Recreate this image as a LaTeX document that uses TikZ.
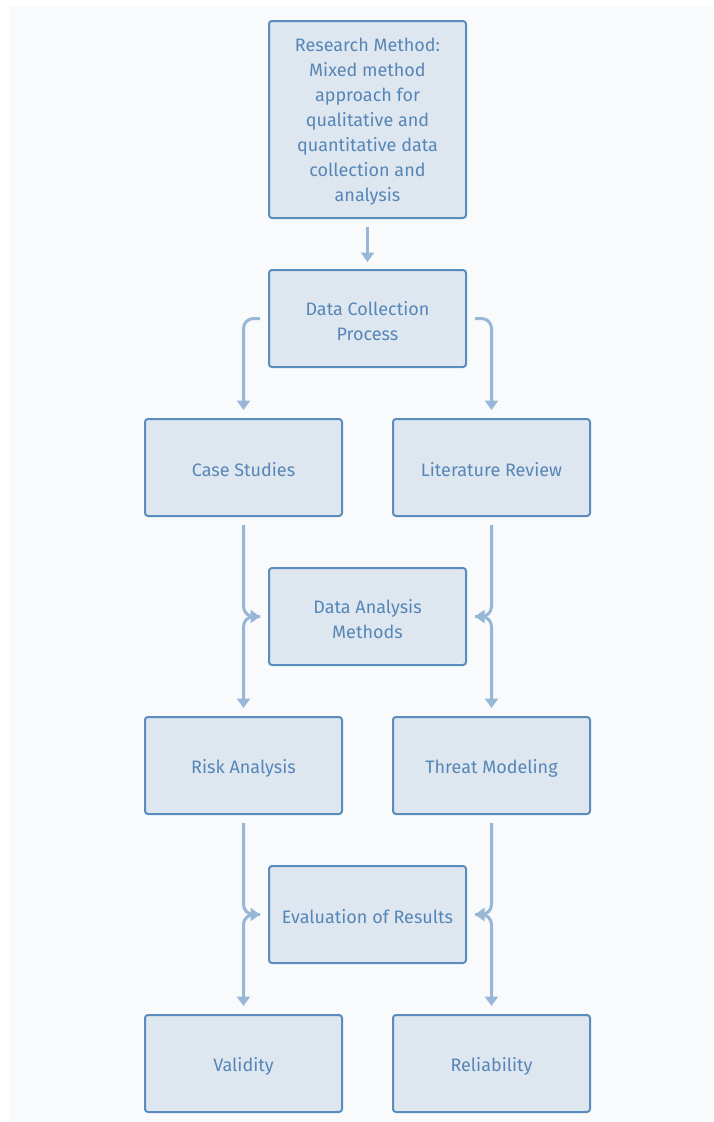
\documentclass[tikz,border=0pt]{standalone}
\usepackage{fontspec}
\setmainfont{Fira Sans}
\usetikzlibrary{arrows.meta}
\definecolor{bg}{HTML}{F8FAFC}
\definecolor{boxfill}{HTML}{DEE7F0}
\definecolor{boxline}{HTML}{5B8CBE}
\definecolor{txt}{HTML}{5686B7}
\definecolor{arrowc}{HTML}{98B7D6}
\begin{document}
\begin{tikzpicture}[x=1pt,y=-1pt,
  box/.style={draw=boxline, fill=boxfill, line width=2pt, rounded corners=3pt,
    minimum width=197pt, minimum height=97pt, inner sep=0pt},
  lbl/.style={align=center, text=txt, inner sep=0pt, yshift=-2.5pt,
    font=\fontsize{18}{25}\selectfont},
  conn/.style={draw=arrowc, line width=3pt, rounded corners=10pt,
    -{Triangle[length=9.5pt,width=13pt]}}]
\useasboundingbox (0,0) rectangle (713,1122);
\fill[bg] (9,6) rectangle (713,1122);
\node[box, minimum height=197pt, label={[lbl]center:Research Method:\\Mixed method\\approach for\\qualitative and\\quantitative data\\collection and\\analysis}] (rm) at (367.5,119.5) {};
\node[box, label={[lbl]center:Data Collection\\Process}] (dc) at (367.5,318.5) {};
\node[box, label={[lbl]center:Case Studies}] (cs) at (243.5,467.5) {};
\node[box, label={[lbl]center:Literature Review}] (lr) at (491.5,467.5) {};
\node[box, label={[lbl]center:Data Analysis\\Methods}] (dam) at (367.5,616.5) {};
\node[box, label={[lbl]center:Risk Analysis}] (ra) at (243.5,765.5) {};
\node[box, label={[lbl]center:Threat Modeling}] (tm) at (491.5,765.5) {};
\node[box, label={[lbl]center:Evaluation of Results}] (ev) at (367.5,914.5) {};
\node[box, label={[lbl]center:Validity}] (va) at (243.5,1063.5) {};
\node[box, label={[lbl]center:Reliability}] (re) at (491.5,1063.5) {};
\draw[conn] ([yshift=-8pt]rm.south) -- ([yshift=7pt]dc.north);
\draw[conn] ([xshift=-8pt]dc.west) -| ([yshift=8pt]cs.north);
\draw[conn] ([xshift=8pt]dc.east) -| ([yshift=8pt]lr.north);
\draw[conn] ([yshift=-8pt]cs.south) |- ([xshift=-8pt]dam.west);
\draw[conn] ([yshift=-8pt]lr.south) |- ([xshift=8pt]dam.east);
\draw[conn] ([xshift=-8pt]dam.west) -| ([yshift=8pt]ra.north);
\draw[conn] ([xshift=8pt]dam.east) -| ([yshift=8pt]tm.north);
\draw[conn] ([yshift=-8pt]ra.south) |- ([xshift=-8pt]ev.west);
\draw[conn] ([yshift=-8pt]tm.south) |- ([xshift=8pt]ev.east);
\draw[conn] ([xshift=-8pt]ev.west) -| ([yshift=8pt]va.north);
\draw[conn] ([xshift=8pt]ev.east) -| ([yshift=8pt]re.north);
\end{tikzpicture}
\end{document}
